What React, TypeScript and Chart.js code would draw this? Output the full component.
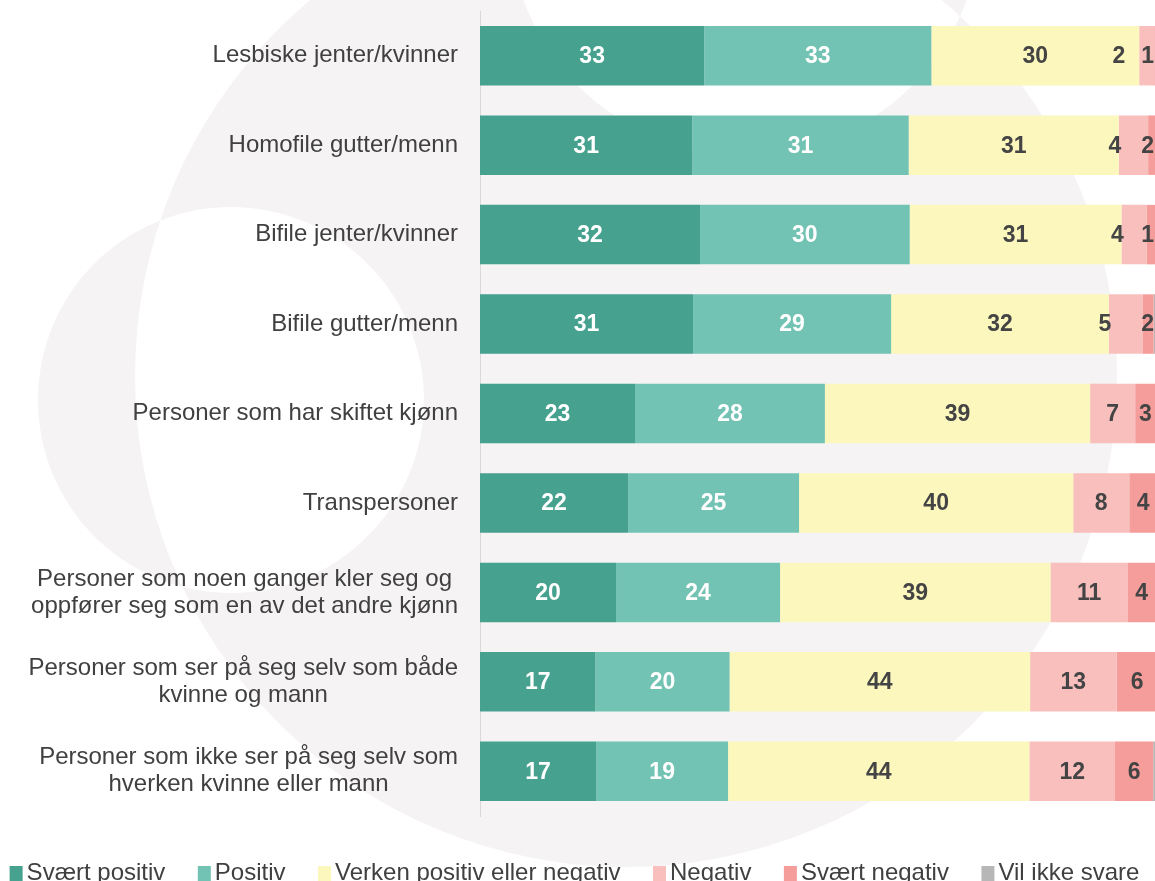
import React, { useEffect, useRef } from "react";
import { Chart, registerables } from "chart.js";

Chart.register(...registerables);

const categories: (string | string[])[] = [
  "Lesbiske jenter/kvinner",
  "Homofile gutter/menn",
  "Bifile jenter/kvinner",
  "Bifile gutter/menn",
  "Personer som har skiftet kjønn",
  "Transpersoner",
  ["Personer som noen ganger kler seg og", "oppfører seg som en av det andre kjønn"],
  ["Personer som ser på seg selv som både", "kvinne og mann"],
  ["Personer som ikke ser på seg selv som", "hverken kvinne eller mann"],
];

const seriesNames = [
  "Svært positiv",
  "Positiv",
  "Verken positiv eller negativ",
  "Negativ",
  "Svært negativ",
  "Vil ikke svare",
];

const svaertPositiv = [32.6, 30.85, 31.98, 30.97, 22.53, 21.53, 19.77, 16.77, 16.89];
const positiv = [33.0, 31.45, 30.47, 28.78, 27.59, 24.84, 23.84, 19.5, 19.16];
const verken = [30.2, 30.55, 30.78, 31.66, 38.55, 39.85, 39.3, 43.68, 43.79];
const negativ = [2.2, 4.25, 3.69, 4.94, 6.55, 8.14, 11.26, 12.57, 12.45];
const svaertNegativ = [1.0, 2.0, 1.2, 1.55, 3.0, 4.0, 4.0, 6.0, 5.55];
const vilIkkeSvare = [1.0, 0.9, 1.88, 2.1, 1.78, 1.64, 1.83, 1.48, 2.16];

const seriesColors = ["#46a18f", "#72c3b3", "#fbf7bd", "#f8bfbd", "#f59d9a", "#b7b7b7"];

// visible part of the 0–100 axis (the picture is cropped on the right)
const xVisibleMax = 98.1;

const FONT = "'Liberation Sans', Arial, sans-serif";
const TEXT_COLOR = "#404040";

const backgroundPlugin = {
  id: "bgShapes",
  beforeDraw(chart: any) {
    const { ctx, width, height } = chart;
    ctx.save();
    ctx.fillStyle = "#ffffff";
    ctx.fillRect(0, 0, width, height);
    ctx.beginPath();
    const circles = [
      [626, 376, 491],
      [231, 400, 193],
      [745, -81, 236],
    ];
    for (const [cx, cy, r] of circles) {
      ctx.moveTo(cx + r, cy);
      ctx.arc(cx, cy, r, 0, Math.PI * 2);
    }
    ctx.fillStyle = "#f5f3f4";
    ctx.fill("evenodd");
    ctx.restore();
  },
};

const categoryLabelPlugin = {
  id: "categoryLabels",
  afterDraw(chart: any) {
    const { ctx, chartArea } = chart;
    const yScale = chart.scales.y;
    ctx.save();
    ctx.font = `24px ${FONT}`;
    ctx.fillStyle = TEXT_COLOR;
    ctx.textBaseline = "middle";
    ctx.textAlign = "center";
    const rightEdge = chartArea.left - 22;
    const lineHeight = 27;
    categories.forEach((c, i) => {
      const lines = Array.isArray(c) ? c : [c];
      const widest = Math.max(...lines.map((l) => ctx.measureText(l).width));
      const cx = rightEdge - widest / 2;
      const cy = yScale.getPixelForTick(i);
      const top = cy - ((lines.length - 1) * lineHeight) / 2;
      lines.forEach((l, j) => ctx.fillText(l, cx, top + j * lineHeight));
    });
    ctx.restore();
  },
};

const valueLabelPlugin = {
  id: "valueLabels",
  afterDatasetsDraw(chart: any) {
    const { ctx, chartArea } = chart;
    ctx.save();
    ctx.font = `bold 23px ${FONT}`;
    ctx.textBaseline = "middle";
    ctx.textAlign = "center";
    const nRows = chart.data.labels.length;
    for (let i = 0; i < nRows; i++) {
      const items: any[] = [];
      chart.data.datasets.forEach((ds: any, d: number) => {
        if (d > 4) return;
        const el = chart.getDatasetMeta(d).data[i];
        const v = ds.data[i];
        const txt = String(Math.round(v));
        if (txt === "0") return;
        const w = ctx.measureText(txt).width;
        let cx = (el.x + el.base) / 2;
        if (d === 3 && v < 6) cx = el.base - 4;
        cx = Math.min(cx, chartArea.right - w / 2 - 1);
        items.push({ txt, w, cx, y: el.y, color: d < 2 ? "#ffffff" : "#444444" });
      });
      // avoid overlaps, working from right to left
      for (let k = items.length - 2; k >= 0; k--) {
        const next = items[k + 1];
        const maxRight = next.cx - next.w / 2 - 16;
        if (items[k].cx + items[k].w / 2 > maxRight) items[k].cx = maxRight - items[k].w / 2;
      }
      items.forEach((it) => {
        ctx.fillStyle = it.color;
        ctx.fillText(it.txt, it.cx, it.y + 1);
      });
    }
    ctx.restore();
  },
};

const legendPlugin = {
  id: "customLegend",
  afterDraw(chart: any) {
    const { ctx, width } = chart;
    ctx.save();
    ctx.font = `24px ${FONT}`;
    ctx.textBaseline = "alphabetic";
    ctx.textAlign = "left";
    const box = 13;
    const gap = 4;
    const spacing = 32.5;
    const items = chart.data.datasets.map((ds: any) => ({
      label: ds.label,
      color: ds.backgroundColor,
      w: ctx.measureText(ds.label).width,
    }));
    const total =
      items.reduce((s: number, it: any) => s + box + gap + it.w, 0) + spacing * (items.length - 1);
    let x = (width - total) / 2 - 3;
    const baseline = 880;
    items.forEach((it: any) => {
      ctx.fillStyle = it.color;
      ctx.fillRect(x, baseline - box - 1, box, box + 2);
      ctx.fillStyle = TEXT_COLOR;
      ctx.fillText(it.label, x + box + gap, baseline);
      x += box + gap + it.w + spacing;
    });
    ctx.restore();
  },
};

export default function App() {
  const canvasRef = useRef<HTMLCanvasElement | null>(null);

  useEffect(() => {
    if (!canvasRef.current) return;
    const series = [svaertPositiv, positiv, verken, negativ, svaertNegativ, vilIkkeSvare];
    const chart = new Chart(canvasRef.current, {
      type: "bar",
      data: {
        labels: categories.map((c) => (Array.isArray(c) ? c.join(" ") : c)),
        datasets: series.map((data, i) => ({
          label: seriesNames[i],
          data,
          backgroundColor: seriesColors[i],
          borderWidth: 0,
          barPercentage: 1,
          categoryPercentage: 0.665,
        })),
      },
      options: {
        indexAxis: "y",
        responsive: false,
        animation: false,
        devicePixelRatio: 1,
        layout: { padding: { top: 11, bottom: 65, left: 0, right: 0 } },
        plugins: {
          legend: { display: false },
          tooltip: { enabled: false },
        },
        scales: {
          x: {
            stacked: true,
            min: 0,
            max: xVisibleMax,
            display: false,
          },
          y: {
            stacked: true,
            grid: { display: false, drawTicks: false, tickLength: 0 },
            border: { display: true, color: "#d9d9d9", width: 1 },
            ticks: { display: false },
            afterFit: (scale: any) => {
              scale.width = 480;
            },
          },
        },
      },
      plugins: [backgroundPlugin, valueLabelPlugin, categoryLabelPlugin, legendPlugin],
    } as any);
    return () => chart.destroy();
  }, []);

  return (
    <div
      style={{
        position: "fixed",
        left: 0,
        top: 0,
        width: 1155,
        height: 881,
        overflow: "hidden",
        background: "#ffffff",
      }}
    >
      <canvas ref={canvasRef} width={1155} height={881} style={{ display: "block" }} />
    </div>
  );
}
